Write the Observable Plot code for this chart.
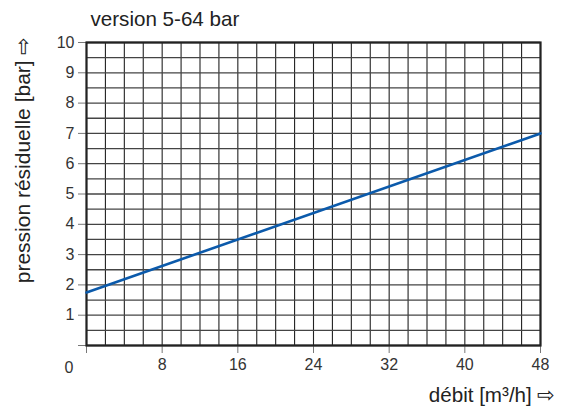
<!DOCTYPE html>
<html><head><meta charset="utf-8">
<script src="https://cdn.jsdelivr.net/npm/d3@7"></script>
<script src="https://cdn.jsdelivr.net/npm/@observablehq/plot@0.6"></script>
<style>body{margin:0;background:#fff}</style>
</head><body><div id="chart"></div>
<script>
const title = "version 5-64 bar";
const xLabel = "débit [m³/h] ⇨";
const yLabel = "pression résiduelle [bar] ⇨";
const originLabel = "0";
const flow = [0, 48];
const pressure = [1.75, 7.0];
const xTicks = [0, 8, 16, 24, 32, 40, 48];
const yTicks = [0, 1, 2, 3, 4, 5, 6, 7, 8, 9, 10];
const xGrid = d3.range(0, 49, 2);
const yGrid = d3.range(0, 10.01, 0.5);

const data = flow.map((f, i) => ({flow: f, pressure: pressure[i]}));
const font = "'Liberation Sans', Arial, sans-serif";

const chart = Plot.plot({
  width: 571, height: 410,
  marginLeft: 86, marginRight: 31, marginTop: 42, marginBottom: 65,
  style: {fontFamily: font, fontSize: "16px", color: "#333", background: "#fff"},
  x: {domain: [0, 48]},
  y: {domain: [0, 10]},
  marks: [
    Plot.gridX(xGrid, {stroke: "#222", strokeOpacity: 1, strokeWidth: 1.1}),
    Plot.gridY(yGrid, {stroke: "#444", strokeOpacity: 1, strokeWidth: 1.3}),
    Plot.axisX(xTicks, {tickSize: 8, tickPadding: 5, stroke: "#777", fill: "#333", fontSize: 16,
      tickFormat: d => d === 0 ? "" : String(d), label: null}),
    Plot.axisY(yTicks, {tickSize: 8, tickPadding: 4, stroke: "#777", fill: "#333", fontSize: 16,
      tickFormat: d => d === 0 ? "" : String(d), label: null}),
    Plot.frame({stroke: "#222", strokeWidth: 2.2}),
    Plot.line(data, {x: "flow", y: "pressure", stroke: "#0b5aab", strokeWidth: 2.6}),
    Plot.text([title], {frameAnchor: "top-left", lineAnchor: "middle", dx: 4, dy: -23, textAnchor: "start", fontSize: 20.6, fill: "#222"}),
    Plot.text([originLabel], {frameAnchor: "bottom-left", lineAnchor: "middle", dx: -22, dy: 22, fontSize: 16, fill: "#333"}),
    Plot.text([xLabel], {frameAnchor: "bottom-right", lineAnchor: "middle", dx: 15, dy: 50, textAnchor: "end", fontSize: 20.6, fill: "#222"}),
    Plot.text([yLabel], {frameAnchor: "top-left", lineAnchor: "middle", dx: -63, dy: -6, textAnchor: "end", rotate: -90, fontSize: 21, fill: "#222"})
  ]
});
document.getElementById("chart").appendChild(chart);
</script>
</body></html>
